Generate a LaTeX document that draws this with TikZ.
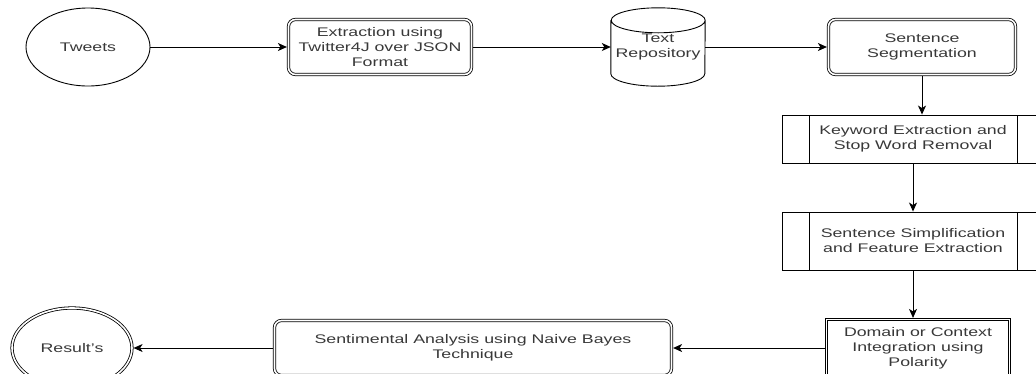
\documentclass[tikz,border=0pt]{standalone}
\usepackage{fontspec}
\setmainfont{Liberation Sans}[FakeStretch=1.42]
\usetikzlibrary{arrows.meta,shapes.geometric}
\definecolor{labelgray}{rgb}{0.22,0.22,0.22}

\begin{document}
\begin{tikzpicture}[x=1pt,y=-1pt,
  every node/.style={font=\fontsize{12.5}{15}\selectfont, text=labelgray, align=center, inner sep=0pt},
  flow/.style={draw, line width=0.9pt, -{Stealth[length=9pt,width=8pt,inset=2.5pt]}},
  startend/.style={draw, ellipse, line width=0.9pt, minimum width=124pt, minimum height=78pt},
  endstate/.style={draw, ellipse, line width=0.8pt, double, double distance=1.6pt, outer sep=1.6pt, minimum width=120pt, minimum height=80pt},
  roundbox/.style={draw, rectangle, rounded corners=7pt, line width=0.8pt, double, double distance=1.6pt, outer sep=1.6pt, minimum height=55pt},
  dblbox/.style={draw, rectangle, line width=0.8pt, double, double distance=1.6pt, outer sep=1.6pt, minimum width=183pt, minimum height=57pt},
  store/.style={rectangle, minimum width=94pt, minimum height=78pt},
  procbox/.style={draw, rectangle, line width=0.9pt, minimum width=262pt,
    path picture={\draw[line width=0.9pt] ([xshift=27pt]path picture bounding box.north west) -- ([xshift=27pt]path picture bounding box.south west);
      \draw[line width=0.9pt] ([xshift=-27pt]path picture bounding box.north east) -- ([xshift=-27pt]path picture bounding box.south east);}}
]
\path[use as bounding box, clip] (0,0) rectangle (1036,373);

\node[startend] (tweets) at (88,47) {Tweets};
\node[roundbox, minimum width=183pt] (extract) at (380,47) {Extraction using\\Twitter4J over JSON\\Format};
\node[store] (repo) at (658,47) {Text\\Repository};
\draw[line width=0.9pt] ([yshift=-12.5pt]repo.north west) -- ([yshift=12.5pt]repo.south west)
  arc[start angle=180, end angle=360, x radius=47pt, y radius=12.5pt] -- ([yshift=-12.5pt]repo.north east)
  arc[start angle=0, end angle=180, x radius=47pt, y radius=12.5pt]
  arc[start angle=180, end angle=360, x radius=47pt, y radius=12.5pt];
\node[roundbox, minimum width=187pt] (seg) at (922,47) {Sentence\\Segmentation};
\node[procbox, minimum height=48pt] (key) at (913,139) {Keyword Extraction and\\Stop Word Removal};
\node[procbox, minimum height=58pt] (simp) at (913,241) {Sentence Simplification\\and Feature Extraction};
\node[dblbox] (domain) at (918,348) {Domain or Context\\Integration using\\Polarity};
\node[roundbox, minimum width=397pt] (analysis) at (473,348) {Sentimental Analysis using Naive Bayes\\Technique};
\node[endstate] (result) at (72,348) {Result's};

\draw[flow] (tweets) -- (extract);
\draw[flow] (extract) -- (repo);
\draw[flow] (repo) -- (seg);
\draw[flow] (seg) -- (seg |- key.north);
\draw[flow] (key) -- (simp);
\draw[flow] (simp) -- (simp |- domain.north);
\draw[flow] (domain) -- (analysis);
\draw[flow] (analysis) -- (result);
\end{tikzpicture}
\end{document}
